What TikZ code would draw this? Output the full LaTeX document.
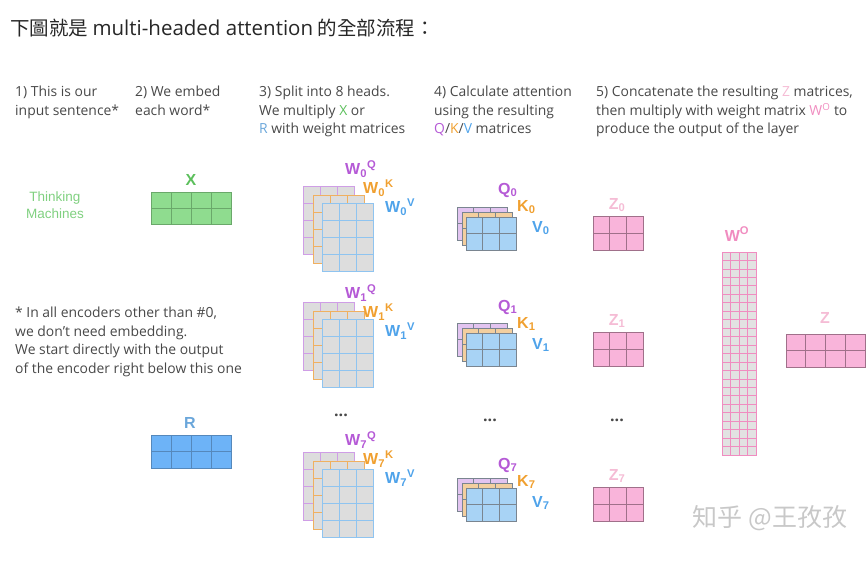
\documentclass[tikz,border=0pt]{standalone}
\usepackage{fontspec}
\setmainfont{Open Sans}
\newfontfamily\cjkfont{Noto Sans CJK TC}
\newfontfamily\labelfont{Liberation Sans}
\definecolor{hdrgray}{HTML}{484848}
\definecolor{xgreen}{HTML}{5CBF5C}
\definecolor{lightgreen}{HTML}{80D080}
\definecolor{xfill}{HTML}{8FDC8F}
\definecolor{xline}{HTML}{6AA86A}
\definecolor{rblue}{HTML}{6AA6DA}
\definecolor{rfill}{HTML}{6DB3F7}
\definecolor{rline}{HTML}{5588BB}
\definecolor{qpurple}{HTML}{B55AD6}
\definecolor{kor}{HTML}{F0A030}
\definecolor{vblue}{HTML}{4FA3EA}
\definecolor{qline}{HTML}{CF9EE6}
\definecolor{kline}{HTML}{F0B060}
\definecolor{vline}{HTML}{8FC4F0}
\definecolor{wfill}{HTML}{DDDDDD}
\definecolor{qfill}{HTML}{E2C4F0}
\definecolor{kfill}{HTML}{F3CF9F}
\definecolor{vfill}{HTML}{A8D3F5}
\definecolor{cellline}{HTML}{7A8590}
\definecolor{zfill}{HTML}{F9B4DA}
\definecolor{zline}{HTML}{A0708A}
\definecolor{zpink}{HTML}{F5BCD5}
\definecolor{wopink}{HTML}{F08CC0}
\definecolor{wofill}{HTML}{E2E2E2}
\definecolor{wmgray}{HTML}{C8C8C8}

% cells: x, y, cols, rows, cell width, cell height, style
\newcommand{\cellgrid}[7]{%
  \draw[#7] (#1,#2) rectangle ++(#3*#5,#4*#6);
  \foreach \i in {1,...,#3}{\draw[#7,fill=none] (#1+\i*#5,#2) -- ++(0,#4*#6);}
  \foreach \j in {1,...,#4}{\draw[#7,fill=none] (#1,#2+\j*#6) -- ++(#3*#5,0);}
}
% weight stack: top y, head, label y
\newcommand{\wstack}[3]{%
  \cellgrid{303}{#1}{3}{4}{17}{17}{wq}
  \cellgrid{313}{#1+9}{3}{4}{17}{17}{wk}
  \cellgrid{322}{#1+17}{3}{4}{17}{17}{wv}
  \node[lab,anchor=west,text=qpurple] (wq#2) at (345,#3) {W\textsubscript{#2}\textsuperscript{Q}};
  \node[lab,anchor=west,text=kor] (wk#2) at (363,#3+19) {W\textsubscript{#2}\textsuperscript{K}};
  \node[lab,anchor=west,text=vblue] (wv#2) at (385,#3+38) {W\textsubscript{#2}\textsuperscript{V}};
}
% q/k/v stack: top y, head, label y
\newcommand{\qkvstack}[3]{%
  \cellgrid{457}{#1}{3}{2}{16.7}{16.5}{qm}
  \cellgrid{462}{#1+5}{3}{2}{16.7}{16.5}{km}
  \cellgrid{466}{#1+10}{3}{2}{16.7}{16.5}{vm}
  \node[lab,anchor=west,text=qpurple] (q#2) at (498,#3) {Q\textsubscript{#2}};
  \node[lab,anchor=west,text=kor] (k#2) at (517,#3+17) {K\textsubscript{#2}};
  \node[lab,anchor=west,text=vblue] (v#2) at (532,#3+38) {V\textsubscript{#2}};
}
% z matrix: top y, head
\newcommand{\zmat}[2]{%
  \cellgrid{593}{#1}{3}{2}{16.7}{17}{zm}
  \node[lab,text=zpink] (z#2) at (617,#1-11) {Z\textsubscript{#2}};
}

\begin{document}
\begin{tikzpicture}[x=1pt,y=-1pt,
  hdr/.style={anchor=north west,align=left,inner sep=0pt,text=hdrgray,font=\fontsize{13.9}{18.6}\selectfont},
  lab/.style={inner sep=0pt,font=\labelfont\bfseries\fontsize{16}{16}\selectfont},
  dots/.style={inner sep=0pt,text=hdrgray,font=\bfseries\fontsize{16}{16}\selectfont},
  wq/.style={fill=wfill,draw=qline,line width=0.8pt},
  wk/.style={fill=wfill,draw=kline,line width=0.8pt},
  wv/.style={fill=wfill,draw=vline,line width=0.8pt},
  qm/.style={fill=qfill,draw=cellline,line width=0.6pt},
  km/.style={fill=kfill,draw=cellline,line width=0.6pt},
  vm/.style={fill=vfill,draw=cellline,line width=0.6pt},
  zm/.style={fill=zfill,draw=zline,line width=0.6pt},
  xm/.style={fill=xfill,draw=xline,line width=0.6pt},
  rm/.style={fill=rfill,draw=rline,line width=0.6pt},
  wom/.style={fill=wofill,draw=wopink,line width=0.7pt}]
\useasboundingbox (0,0) rectangle (867,582);

% title
\node[anchor=base west,inner sep=0pt,text=black!85,font=\cjkfont\fontsize{19.5}{19.5}\selectfont] (title) at (10,35) {下圖就是 {\fontspec{Open Sans}\fontsize{20.5}{20.5}\selectfont multi-headed attention} 的全部流程：};

% column headers
\node[hdr] (h1) at (15,86) {1) This is our\\input sentence*};
\node[hdr] (h2) at (135,86) {2) We embed\\each word*};
\node[hdr] (h3) at (259,86) {3) Split into 8 heads.\\We multiply {\color{xgreen}X} or\\{\color{rblue}R} with weight matrices};
\node[hdr] (h4) at (434,86) {4) Calculate attention\\using the resulting\\{\color{qpurple}Q}/{\color{kor}K}/{\color{vblue}V} matrices};
\node[hdr] (h5) at (596,86) {5) Concatenate the resulting {\color{zpink}Z} matrices,\\then multiply with weight matrix {\color{wopink}W\textsuperscript{O}} to\\produce the output of the layer};

% input sentence
\node[align=center,inner sep=0pt,text=lightgreen,font=\labelfont\fontsize{13.5}{17}\selectfont] (sent) at (55,205) {Thinking\\Machines};

% X and R
\node[lab,text=xgreen] (xlab) at (191,180) {X};
\cellgrid{151}{192}{4}{2}{20}{16.2}{xm}
\node[hdr] (note) at (15,307) {* In all encoders other than \#0,\\we don’t need embedding.\\We start directly with the output\\of the encoder right below this one};
\node[lab,text=rblue] (rlab) at (190,423) {R};
\cellgrid{151}{435}{4}{2}{20}{16.5}{rm}

% heads
\wstack{186}{0}{169}
\wstack{302}{1}{293}
\node[dots] (wdots) at (341,415) {...};
\wstack{452}{7}{440}

\qkvstack{207}{0}{190}
\qkvstack{323}{1}{307}
\node[dots] (qdots) at (490,420) {...};
\qkvstack{478}{7}{465}

\zmat{216}{0}
\zmat{332}{1}
\node[dots] (zdots) at (617,420) {...};
\zmat{487}{7}

% output
\node[lab,text=wopink] (wolab) at (737,234) {W\textsuperscript{O}};
\cellgrid{722}{252}{4}{24}{8.5}{8.46}{wom}
\node[lab,text=zpink] (zlab) at (825,318) {Z};
\cellgrid{786}{334}{4}{2}{19.75}{16.5}{zm}

\node[inner sep=0pt,text=wmgray,font=\cjkfont\fontsize{25}{25}\selectfont] (wm) at (770,518) {知乎 @王孜孜};
\end{tikzpicture}
\end{document}
